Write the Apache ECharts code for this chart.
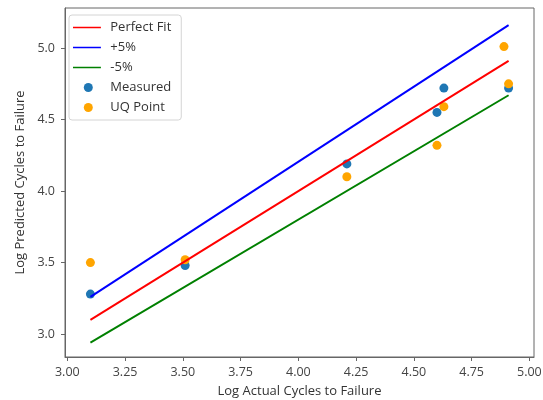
<!DOCTYPE html>
<html>
<head>
<meta charset="utf-8">
<script src="https://cdn.jsdelivr.net/npm/echarts@6/dist/echarts.min.js"></script>
<style>
  html, body { margin: 0; padding: 0; background: #fff; }
  #chart { width: 543px; height: 400px; }
</style>
</head>
<body>
<div id="chart"></div>
<script>
// line end points (x from min to max actual value)
const lineX = [3.10, 4.91];
const perfectY = [3.10, 4.91];
const plusY = [3.26, 5.16];
const minusY = [2.94, 4.67];

// measured points
const measuredX = [3.10, 3.51, 4.21, 4.60, 4.63, 4.91];
const measuredY = [3.28, 3.48, 4.19, 4.55, 4.72, 4.72];

// UQ points
const uqX = [3.10, 3.51, 4.21, 4.60, 4.63, 4.89, 4.91];
const uqY = [3.50, 3.52, 4.10, 4.32, 4.59, 5.01, 4.75];

const xTicks = [3.00, 3.25, 3.50, 3.75, 4.00, 4.25, 4.50, 4.75, 5.00];
const yTicks = [3.0, 3.5, 4.0, 4.5, 5.0];

function pairs(xs, ys) {
  return xs.map((x, i) => [x, ys[i]]);
}

const myChart = echarts.init(document.getElementById('chart'));
const font = 'Open Sans';
// thin line handle for the legend, padded so it isn't stretched
const lineIcon = 'path://M0,0 L0.01,0 M0,4.1 L31,4.1 L31,5.9 L0,5.9 Z M34,10 L34.01,10';

let option = {
  animation: false,
  textStyle: { fontFamily: font },
  grid: {
    left: 65, right: 9, top: 8, bottom: 43,
    outerBoundsMode: 'none',
    show: true, borderColor: '#666', borderWidth: 1
  },
  legend: {
    orient: 'vertical',
    left: 69, top: 15,
    itemWidth: 34, itemHeight: 9, itemGap: 7,
    padding: [6, 10, 6, 4],
    backgroundColor: '#fff',
    borderColor: '#d4d4d4', borderWidth: 1, borderRadius: 3,
    textStyle: { fontFamily: font, fontSize: 13, color: '#333' },
    data: [
      { name: 'Perfect Fit', icon: lineIcon },
      { name: '+5%', icon: lineIcon },
      { name: '-5%', icon: lineIcon },
      { name: 'Measured', icon: 'circle' },
      { name: 'UQ Point', icon: 'circle' }
    ]
  },
  xAxis: {
    type: 'value',
    min: 2.99, max: 5.02,
    name: 'Log Actual Cycles to Failure',
    nameLocation: 'middle', nameGap: 28,
    nameTextStyle: { fontSize: 13, color: '#333' },
    splitLine: { show: false },
    axisLine: { show: true, lineStyle: { color: '#666' } },
    axisTick: { show: true, length: 4, customValues: xTicks, lineStyle: { color: '#666' } },
    axisLabel: {
      customValues: xTicks, fontSize: 12.5, color: '#444', margin: 9,
      formatter: v => v.toFixed(2)
    }
  },
  yAxis: {
    type: 'value',
    min: 2.84, max: 5.28,
    name: 'Log Predicted Cycles to Failure',
    nameLocation: 'middle', nameGap: 37,
    nameTextStyle: { fontSize: 13, color: '#333' },
    splitLine: { show: false },
    axisLine: { show: true, lineStyle: { color: '#666' } },
    axisTick: { show: true, length: 4, customValues: yTicks, lineStyle: { color: '#666' } },
    axisLabel: {
      customValues: yTicks, fontSize: 12.5, color: '#444', margin: 10,
      formatter: v => v.toFixed(1)
    }
  },
  series: [
    {
      name: 'Perfect Fit', type: 'line', symbol: 'none',
      lineStyle: { color: '#ff0000', width: 2 }, itemStyle: { color: '#ff0000' },
      data: pairs(lineX, perfectY)
    },
    {
      name: '+5%', type: 'line', symbol: 'none',
      lineStyle: { color: '#0000ff', width: 2 }, itemStyle: { color: '#0000ff' },
      data: pairs(lineX, plusY)
    },
    {
      name: '-5%', type: 'line', symbol: 'none',
      lineStyle: { color: '#008000', width: 2 }, itemStyle: { color: '#008000' },
      data: pairs(lineX, minusY)
    },
    {
      name: 'Measured', type: 'scatter', symbolSize: 9,
      itemStyle: { color: '#1f77b4', opacity: 1 },
      data: pairs(measuredX, measuredY)
    },
    {
      name: 'UQ Point', type: 'scatter', symbolSize: 9,
      itemStyle: { color: '#ffa500', opacity: 1 },
      data: pairs(uqX, uqY)
    }
  ]
};
myChart.setOption(option);
</script>
</body>
</html>
